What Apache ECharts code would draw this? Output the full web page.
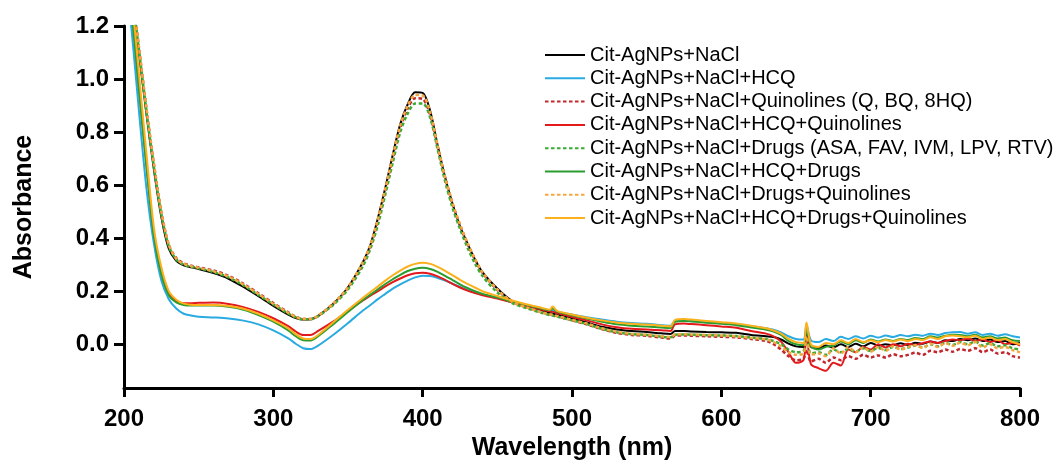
<!DOCTYPE html>
<html>
<head>
<meta charset="utf-8">
<script src="https://cdn.jsdelivr.net/npm/echarts@6/dist/echarts.min.js"></script>
<style>
html,body{margin:0;padding:0;background:#fff;}
#chart{width:1060px;height:466px;}
</style>
</head>
<body>
<div id="chart"></div>
<script>
// Wavelength (nm) sample positions
var wavelengths = [200,205,210,215,220,225,230,235,240,245,
250,260,270,280,290,300,310,315,320,325,
330,340,350,360,365,370,375,380,385,390,
395,400,405,410,415,420,425,430,435,440,
450,460,470,480,485,487,490,500,510,520,
530,540,550,560,566,569,575,580,590,600,
610,620,630,635,640,645,650,655,657,660,
665,670,675,680,685,690,695,700,705,710,
715,720,725,730,735,740,745,750,755,760,
765,770,775,780,785,790,795,800];

var xTicks = [200,300,400,500,600,700,800];
var yTicks = [0.0,0.2,0.4,0.6,0.8,1.0,1.2];

var seriesNames = [
  'Cit-AgNPs+NaCl',
  'Cit-AgNPs+NaCl+HCQ',
  'Cit-AgNPs+NaCl+Quinolines (Q, BQ, 8HQ)',
  'Cit-AgNPs+NaCl+HCQ+Quinolines',
  'Cit-AgNPs+NaCl+Drugs (ASA, FAV, IVM, LPV, RTV)',
  'Cit-AgNPs+NaCl+HCQ+Drugs',
  'Cit-AgNPs+NaCl+Drugs+Quinolines',
  'Cit-AgNPs+NaCl+HCQ+Drugs+Quinolines'
];

var nacl = [1.56,1.33,1.10,0.87,0.66,0.48,0.36,0.315,0.298,0.290,
0.284,0.268,0.247,0.216,0.181,0.145,0.112,0.099,0.093,0.094,
0.107,0.152,0.215,0.310,0.375,0.475,0.590,0.715,0.830,0.905,
0.950,0.948,0.880,0.750,0.630,0.530,0.445,0.380,0.320,0.272,
0.210,0.163,0.145,0.128,0.118,0.116,0.112,0.098,0.082,0.066,
0.056,0.050,0.046,0.041,0.039,0.050,0.050,0.048,0.046,0.045,
0.043,0.035,0.030,0.027,0.018,0.002,-0.008,-0.010,0.040,-0.010,
-0.015,-0.005,-0.012,0.000,-0.010,0.002,-0.008,0.005,-0.005,0.000,
-0.004,0.004,-0.003,0.006,0.002,0.010,0.005,0.015,0.012,0.020,
0.015,0.022,0.012,0.018,0.008,0.012,0.000,0.005];

var hcq = [1.45,1.19,0.88,0.59,0.38,0.24,0.170,0.135,0.115,0.108,
0.104,0.101,0.097,0.089,0.075,0.052,0.022,0.002,-0.015,-0.018,
-0.005,0.035,0.080,0.127,0.148,0.170,0.190,0.210,0.226,0.240,
0.252,0.258,0.257,0.250,0.240,0.228,0.216,0.205,0.196,0.188,
0.175,0.158,0.145,0.133,0.128,0.127,0.123,0.112,0.102,0.093,
0.085,0.080,0.077,0.072,0.070,0.088,0.090,0.088,0.083,0.079,
0.075,0.068,0.060,0.055,0.045,0.030,0.020,0.018,0.072,0.015,
0.008,0.020,0.012,0.028,0.020,0.030,0.022,0.032,0.025,0.033,
0.027,0.035,0.030,0.036,0.032,0.040,0.035,0.042,0.045,0.046,
0.040,0.045,0.035,0.040,0.032,0.038,0.030,0.025];

var quin = [1.58,1.35,1.12,0.89,0.68,0.50,0.375,0.325,0.305,0.296,
0.290,0.278,0.258,0.228,0.192,0.155,0.120,0.104,0.095,0.095,
0.107,0.152,0.213,0.305,0.370,0.465,0.580,0.700,0.815,0.890,
0.928,0.925,0.865,0.745,0.630,0.530,0.450,0.380,0.320,0.270,
0.205,0.160,0.138,0.120,0.112,0.110,0.106,0.090,0.075,0.057,
0.043,0.035,0.032,0.025,0.022,0.032,0.033,0.032,0.030,0.028,
0.026,0.020,0.012,0.000,-0.020,-0.045,-0.060,-0.055,-0.020,-0.065,
-0.055,-0.070,-0.050,-0.060,-0.045,-0.055,-0.040,-0.050,-0.042,-0.050,
-0.038,-0.045,-0.040,-0.032,-0.040,-0.025,-0.030,-0.020,-0.028,-0.018,
-0.025,-0.015,-0.030,-0.020,-0.035,-0.030,-0.045,-0.050];

var hcqQuin = [1.50,1.27,0.97,0.68,0.42,0.27,0.19,0.163,0.155,0.155,
0.156,0.157,0.152,0.140,0.122,0.098,0.068,0.048,0.035,0.035,
0.050,0.085,0.125,0.165,0.183,0.200,0.218,0.234,0.248,0.260,
0.268,0.270,0.266,0.256,0.243,0.228,0.214,0.202,0.193,0.185,
0.172,0.158,0.143,0.130,0.124,0.122,0.118,0.103,0.090,0.075,
0.064,0.058,0.056,0.053,0.050,0.075,0.078,0.076,0.072,0.067,
0.062,0.050,0.040,0.030,0.010,-0.030,-0.070,-0.060,0.030,-0.075,
-0.090,-0.100,-0.070,-0.080,-0.020,-0.030,-0.010,-0.020,0.000,-0.012,
0.000,-0.008,0.002,-0.002,0.004,0.010,0.005,0.012,0.018,0.015,
0.022,0.012,0.018,0.008,0.015,0.000,0.006,-0.005];

var drugs = [1.57,1.34,1.11,0.88,0.67,0.49,0.37,0.32,0.30,0.292,
0.286,0.272,0.252,0.222,0.186,0.150,0.116,0.102,0.094,0.094,
0.106,0.148,0.207,0.295,0.360,0.450,0.565,0.685,0.800,0.870,
0.908,0.908,0.855,0.735,0.615,0.515,0.435,0.365,0.305,0.258,
0.195,0.155,0.135,0.118,0.110,0.108,0.104,0.090,0.076,0.058,
0.045,0.038,0.035,0.028,0.026,0.036,0.037,0.036,0.034,0.033,
0.031,0.025,0.020,0.012,0.000,-0.020,-0.030,-0.025,0.020,-0.035,
-0.030,-0.040,-0.020,-0.030,-0.018,-0.028,-0.015,-0.025,-0.014,-0.022,
-0.010,-0.018,-0.012,-0.005,-0.012,0.000,-0.008,0.005,-0.002,0.008,
0.000,0.010,-0.005,0.004,-0.008,-0.004,-0.015,-0.020];

var hcqDrugs = [1.52,1.26,0.96,0.67,0.41,0.265,0.185,0.158,0.148,0.146,
0.146,0.146,0.141,0.130,0.110,0.085,0.052,0.030,0.015,0.014,
0.030,0.075,0.122,0.167,0.187,0.207,0.227,0.245,0.262,0.276,
0.285,0.288,0.284,0.273,0.258,0.242,0.226,0.212,0.200,0.190,
0.176,0.162,0.147,0.134,0.128,0.135,0.123,0.109,0.097,0.085,
0.075,0.070,0.067,0.063,0.061,0.085,0.088,0.086,0.081,0.077,
0.072,0.063,0.055,0.048,0.035,0.012,0.000,-0.004,0.060,-0.008,
-0.020,-0.010,-0.005,0.010,0.000,0.015,0.005,0.018,0.010,0.018,
0.012,0.020,0.016,0.024,0.020,0.030,0.025,0.032,0.036,0.035,
0.030,0.036,0.026,0.030,0.022,0.025,0.015,0.012];

var drugsQuin = [1.58,1.35,1.12,0.89,0.68,0.50,0.375,0.322,0.303,0.294,
0.288,0.275,0.255,0.225,0.189,0.152,0.118,0.103,0.095,0.095,
0.108,0.153,0.215,0.310,0.375,0.472,0.587,0.710,0.825,0.900,
0.940,0.938,0.875,0.750,0.630,0.532,0.452,0.382,0.322,0.272,
0.207,0.160,0.138,0.120,0.113,0.111,0.107,0.092,0.078,0.060,
0.047,0.039,0.036,0.030,0.027,0.037,0.038,0.037,0.035,0.033,
0.030,0.024,0.018,0.008,-0.008,-0.030,-0.040,-0.035,0.030,-0.040,
-0.035,-0.045,-0.015,-0.035,-0.010,-0.030,-0.012,-0.028,-0.010,-0.025,
-0.008,-0.020,-0.010,-0.004,-0.014,0.002,-0.010,0.004,-0.006,0.006,
-0.004,0.008,-0.012,0.000,-0.015,-0.010,-0.022,-0.030];

var hcqDrugsQuin = [1.62,1.32,1.02,0.72,0.44,0.29,0.20,0.168,0.153,0.149,
0.148,0.148,0.144,0.134,0.115,0.090,0.060,0.038,0.022,0.020,
0.035,0.082,0.130,0.175,0.197,0.218,0.240,0.260,0.278,0.293,
0.303,0.307,0.303,0.292,0.277,0.260,0.243,0.228,0.214,0.200,
0.182,0.165,0.150,0.137,0.130,0.142,0.126,0.112,0.100,0.090,
0.082,0.077,0.074,0.070,0.067,0.092,0.095,0.093,0.088,0.083,
0.078,0.070,0.060,0.052,0.040,0.020,0.008,0.005,0.082,0.000,
-0.010,0.005,0.000,0.015,0.005,0.020,0.008,0.015,0.008,0.016,
0.010,0.018,0.012,0.020,0.016,0.026,0.020,0.030,0.033,0.030,
0.026,0.032,0.020,0.025,0.016,0.020,0.008,0.000];

var seriesValues = [nacl, hcq, quin, hcqQuin, drugs, hcqDrugs, drugsQuin, hcqDrugsQuin];
var seriesColors = ['#000000','#29abe2','#c1272d','#e3191c','#3aaa35','#2a9d2f','#f4a640','#fbb01c'];
var seriesDashed = [false,false,true,false,true,false,true,false];

var FONT = "'Liberation Sans', Arial, Helvetica, sans-serif";

var series = seriesValues.map(function (vals, k) {
  return {
    name: seriesNames[k],
    type: 'line',
    data: wavelengths.map(function (w, i) { return [w, vals[i]]; }),
    symbol: 'none',
    showSymbol: false,
    smooth: 0.3,
    clip: true,
    lineStyle: {
      color: seriesColors[k],
      width: seriesDashed[k] ? 2.5 : 2,
      type: seriesDashed[k] ? [3.5, 2.5] : 'solid'
    },
    itemStyle: { color: seriesColors[k] },
    z: 2 + k
  };
});

var chart = echarts.init(document.getElementById('chart'), null, { renderer: 'canvas' });
chart.setOption({
  animation: false,
  backgroundColor: '#ffffff',
  grid: { left: 124, right: 40, top: 26, bottom: 75, containLabel: false },
  legend: {
    orient: 'vertical',
    left: 539,
    top: 40,
    itemWidth: 40,
    itemHeight: 14,
    itemGap: 3.3,
    data: seriesNames,
    itemStyle: { opacity: 0 },
    textStyle: { fontFamily: FONT, fontSize: 20, lineHeight: 20, color: '#000' }
  },
  xAxis: {
    type: 'value',
    min: 200,
    max: 800,
    interval: 100,
    name: 'Wavelength (nm)',
    nameLocation: 'middle',
    nameGap: 48,
    nameTextStyle: { fontFamily: FONT, fontSize: 25, fontWeight: 'bold', color: '#000' },
    axisLine: { show: true, onZero: false, lineStyle: { color: '#000', width: 3 } },
    axisTick: { show: true, inside: false, length: 9, lineStyle: { color: '#000', width: 3 } },
    axisLabel: {
      margin: 19,
      fontFamily: FONT, fontSize: 24, fontWeight: 'bold', color: '#000',
      customValues: xTicks
    },
    splitLine: { show: false }
  },
  yAxis: {
    type: 'value',
    min: -0.165,
    max: 1.2,
    name: 'Absorbance',
    nameLocation: 'middle',
    nameGap: 87,
    nameTextStyle: { fontFamily: FONT, fontSize: 25, fontWeight: 'bold', color: '#000' },
    axisLine: { show: true, onZero: false, lineStyle: { color: '#000', width: 3 } },
    axisTick: { show: true, inside: false, length: 10, lineStyle: { color: '#000', width: 3 }, customValues: yTicks },
    axisLabel: {
      margin: 15,
      fontFamily: FONT, fontSize: 24, fontWeight: 'bold', color: '#000',
      customValues: yTicks,
      formatter: function (v) { return Number(v).toFixed(1); }
    },
    splitLine: { show: false }
  },
  series: series
});
</script>
</body>
</html>
